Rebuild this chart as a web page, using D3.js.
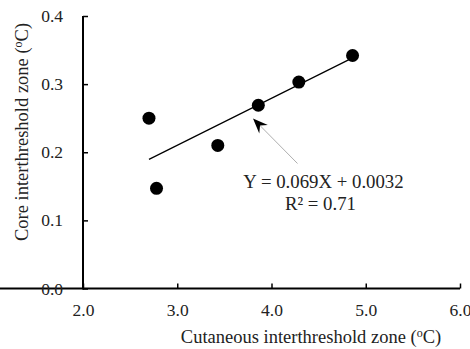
<!DOCTYPE html>
<html><head><meta charset="utf-8">
<script src="https://cdn.jsdelivr.net/npm/d3@7"></script>
<style>body{margin:0;background:#fff;} text{font-family:"Liberation Serif","Times New Roman",serif;fill:#222;}</style>
</head><body>
<svg id="c" width="470" height="349"></svg>
<script>
const cutaneous = [2.70, 2.78, 3.43, 3.86, 4.29, 4.86];
const core = [0.250, 0.147, 0.210, 0.269, 0.303, 0.342];
const xTicks = [2.0, 3.0, 4.0, 5.0, 6.0];
const yTicks = [0.0, 0.1, 0.2, 0.3, 0.4];
const slope = 0.069, intercept = 0.0032;
const trendX = [2.70, 4.86];

const svg = d3.select("#c");
const x = d3.scaleLinear().domain([2, 6]).range([83, 460]);
const y = d3.scaleLinear().domain([0, 0.4]).range([288.5, 16]);

const xa = svg.append("g").attr("transform", "translate(0,288.5)")
  .call(d3.axisBottom(x).tickValues(xTicks).tickSizeInner(-5).tickSizeOuter(0).tickPadding(15).tickFormat(d3.format(".1f")));
const ya = svg.append("g").attr("transform", "translate(83,0)")
  .call(d3.axisLeft(y).tickValues(yTicks).tickSizeInner(-5).tickSizeOuter(0).tickPadding(20).tickFormat(d3.format(".1f")));
[xa, ya].forEach(a => {
  a.select(".domain").attr("stroke", "#000").attr("stroke-width", 2);
  a.selectAll(".tick line").attr("stroke", "#000").attr("stroke-width", 1.5);
  a.selectAll("text").style("font-family", '"Liberation Serif",serif').style("font-size", "17.5px").attr("fill", "#222");
});
xa.selectAll(".tick text").attr("dy", "0.71em");
ya.select(".domain").attr("d", "M0," + y(0.4) + "V" + (y(0) + 1));
xa.select(".domain").attr("d", "M-1,0H" + x(6));

// trend line
svg.append("line")
  .attr("x1", x(trendX[0])).attr("y1", y(slope * trendX[0] + intercept))
  .attr("x2", x(trendX[1])).attr("y2", y(slope * trendX[1] + intercept))
  .attr("stroke", "#000").attr("stroke-width", 1.2);

// points
svg.selectAll("circle.pt").data(cutaneous).enter().append("circle")
  .attr("class", "pt")
  .attr("cx", d => x(d)).attr("cy", (d, i) => y(core[i])).attr("r", 6.5).attr("fill", "#000");

// arrow
const ax = 253, ay = 118.5, bx = 297.5, by = 163.5;
svg.append("line")
  .attr("x1", bx).attr("y1", by).attr("x2", ax + 4).attr("y2", ay + 4)
  .attr("stroke", "#999").attr("stroke-width", 0.8);
const ang = Math.atan2(by - ay, bx - ax) * 180 / Math.PI;
svg.append("path").attr("d", "M0,0 L15,-6 L10,0 L15,6 Z").attr("fill", "#000")
  .attr("transform", `translate(${ax},${ay}) rotate(${ang})`);

// equation
svg.append("text").attr("x", 323.5).attr("y", 188).attr("text-anchor", "middle")
  .style("font-size", "18.8px").text("Y = 0.069X + 0.0032");
svg.append("text").attr("x", 320.5).attr("y", 210).attr("text-anchor", "middle")
  .style("font-size", "18.8px").text("R² = 0.71");

// axis titles
const xt = svg.append("text").attr("x", 311).attr("y", 343).attr("text-anchor", "middle").style("font-size", "18.5px");
xt.append("tspan").text("Cutaneous interthreshold zone (");
xt.append("tspan").attr("dy", -6).style("font-size", "12px").text("o");
xt.append("tspan").attr("dy", 6).text("C)");
const yt = svg.append("text").attr("transform", "translate(28,132) rotate(-90)").attr("text-anchor", "middle").style("font-size", "18.5px");
yt.append("tspan").text("Core interthreshold zone (");
yt.append("tspan").attr("dy", -6).style("font-size", "12px").text("o");
yt.append("tspan").attr("dy", 6).text("C)");
</script>
</body></html>
